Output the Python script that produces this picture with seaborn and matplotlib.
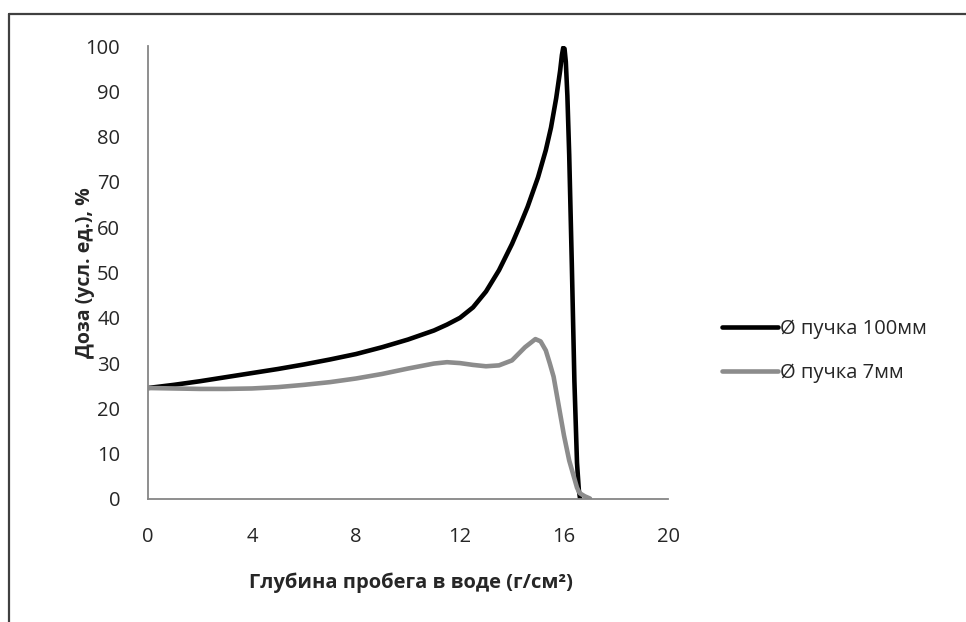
import numpy as np
import pandas as pd
import matplotlib
matplotlib.use("Agg")
import matplotlib.pyplot as plt
from matplotlib.lines import Line2D
import seaborn as sns

# depth (g/cm^2) and dose (%)
depth_100 = [0, 1, 2, 3, 4, 5, 6, 7, 8, 9, 10, 11, 11.5, 12, 12.5, 13, 13.5, 14,
             14.3, 14.6, 15, 15.3, 15.5, 15.7, 15.85, 15.92, 15.97, 16.02, 16.07,
             16.13, 16.2, 16.3, 16.4, 16.5, 16.57, 16.62]
dose_100 = [24.5, 25.2, 26.0, 26.9, 27.8, 28.7, 29.7, 30.8, 32.0, 33.5, 35.2,
            37.2, 38.5, 40.0, 42.3, 45.8, 50.5, 56.3, 60.3, 64.5, 71.0, 77.0,
            82.0, 88.5, 94.5, 98.0, 99.6, 99.4, 96.5, 89.0, 76.0, 52.0, 26.0,
            8.0, 2.0, 0.0]

depth_7 = [0, 1, 2, 3, 4, 5, 6, 7, 8, 9, 10, 11, 11.5, 12, 12.5, 13, 13.5, 14,
           14.5, 14.9, 15.1, 15.3, 15.45, 15.6, 15.8, 16.0, 16.2, 16.35, 16.5,
           16.6, 16.8, 17.0]
dose_7 = [24.5, 24.4, 24.3, 24.3, 24.4, 24.7, 25.2, 25.8, 26.6, 27.6, 28.8,
          29.9, 30.2, 30.0, 29.6, 29.3, 29.5, 30.6, 33.5, 35.3, 34.8, 32.8,
          30.0, 27.0, 20.5, 14.0, 8.5, 5.5, 2.5, 1.3, 0.6, 0.1]

labels = ["Ø пучка 100мм", "Ø пучка 7мм"]
colors = ["#000000", "#8c8c8c"]

df = pd.concat([
    pd.DataFrame({"depth": depth_100, "dose": dose_100, "beam": labels[0]}),
    pd.DataFrame({"depth": depth_7, "dose": dose_7, "beam": labels[1]}),
])

sns.set_style("white")
plt.rcParams["font.family"] = ["Open Sans", "DejaVu Sans"]

fig = plt.figure(figsize=(9.66, 6.22), dpi=100)
ax = fig.add_axes([148 / 966, 1 - 499 / 622, 520 / 966, 453 / 622])

sns.lineplot(data=df, x="depth", y="dose", hue="beam", palette=colors,
             sort=False, linewidth=3.3, ax=ax)
for line in ax.lines:
    line.set_solid_joinstyle("round")
    line.set_solid_capstyle("round")

ax.set_xlim(0, 20)
ax.set_ylim(0, 100)
ax.set_xticks([0, 4, 8, 12, 16, 20])
ax.set_yticks(range(0, 101, 10))
ax.tick_params(length=0, labelsize=14.5)
ax.tick_params(axis="y", pad=20)
ax.tick_params(axis="x", pad=20)

for side in ["top", "right"]:
    ax.spines[side].set_visible(False)
for side in ["left", "bottom"]:
    ax.spines[side].set_color("#868686")
    ax.spines[side].set_linewidth(1.3)

ax.set_xlabel("Глубина пробега в воде (г/см²)", fontsize=14.5, fontweight="bold",
              va="center")
ax.set_ylabel("Доза (усл. ед.), %", fontsize=14, fontweight="bold", va="center")
ax.xaxis.set_label_coords(0.506, -0.185)
ax.yaxis.set_label_coords(-0.122, 0.5)

handles, _ = ax.get_legend_handles_labels()
ax.legend(handles=handles, labels=labels, loc="center left",
          bbox_to_anchor=(722 / 966, 1 - 351 / 622), bbox_transform=fig.transFigure,
          frameon=False, fontsize=14.5, handlelength=2.8, handletextpad=0.1,
          labelspacing=1.15, borderpad=0, borderaxespad=0)

# outer chart frame (top and left edges visible)
fig.add_artist(Line2D([9 / 966, 9 / 966], [0, 1 - 14 / 622],
                      transform=fig.transFigure, color="#404040", linewidth=1.6))
fig.add_artist(Line2D([9 / 966, 1], [1 - 14 / 622, 1 - 14 / 622],
                      transform=fig.transFigure, color="#404040", linewidth=1.6))

fig.savefig("out.png", dpi=100)
